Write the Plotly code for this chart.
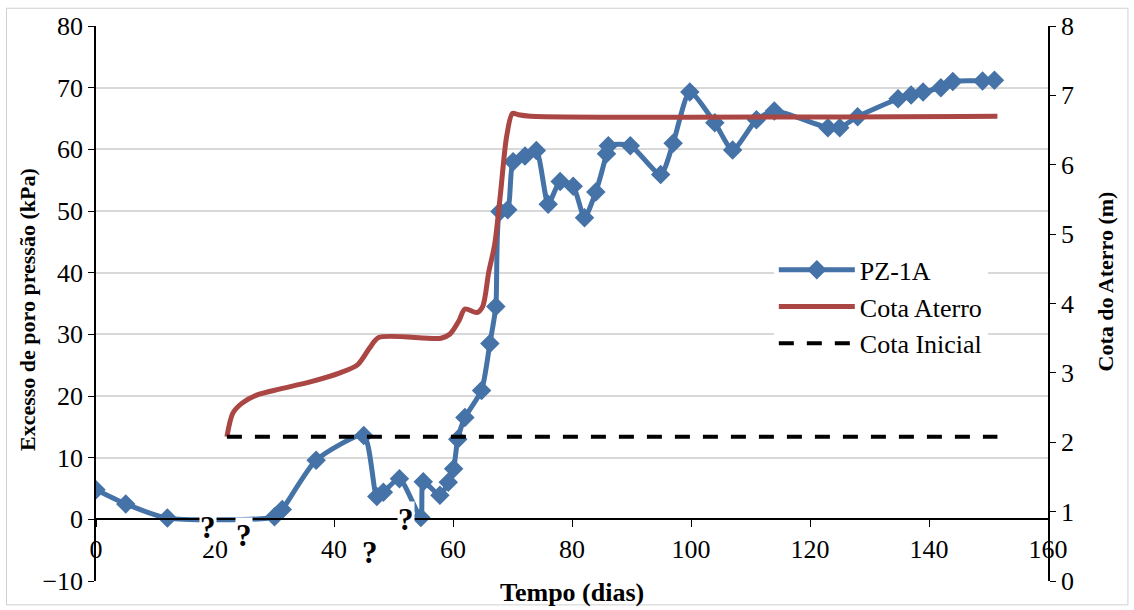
import plotly.graph_objects as go

# PZ-1A excess pore pressure (kPa) vs time (days)
t_pz = [0, 5, 12, 30, 31.3, 37, 45, 47.2, 48.3, 51, 54.6, 55, 57.8, 59.2, 60.1, 60.8,
        62, 64.8, 66.2, 67.2, 67.9, 69.2, 70.1, 72.1, 74, 76, 78, 80.2, 82.1, 84,
        85.8, 86.1, 89.8, 94.9, 97, 99.8, 104, 107, 111, 114, 123, 125, 128, 134.8,
        137, 139, 142, 144, 149, 151]
v_pz = [4.8, 2.5, 0.2, 0.4, 1.6, 9.6, 13.6, 3.7, 4.4, 6.6, 0.3, 6.1, 3.9, 6.0, 8.2, 13.0,
        16.5, 20.9, 28.5, 34.5, 49.9, 50.2, 58.0, 58.9, 59.8, 51.1, 54.8, 54.0, 48.9, 53.1,
        59.3, 60.6, 60.6, 55.9, 61.0, 69.3, 64.3, 59.9, 64.8, 66.2, 63.5, 63.5, 65.3, 68.2,
        68.8, 69.3, 70.0, 71.0, 71.1, 71.2]

# Cota Aterro (m) vs time
t_at = [22, 23, 24.5, 27, 31, 36, 41, 44, 46, 47.5, 58, 59.5, 61, 62, 64, 65, 66, 67,
        68, 69, 70, 71, 73, 151.5]
r_at = [2.08, 2.42, 2.56, 2.68, 2.77, 2.87, 3.0, 3.12, 3.36, 3.51, 3.50, 3.56, 3.75, 3.92,
        3.87, 3.96, 4.45, 4.85, 5.6, 6.4, 6.74, 6.72, 6.70, 6.70]

# Cota Inicial (m)
t_ini = [22, 151.5]
r_ini = [2.08, 2.08]

# "?" marks (time, kPa)
q_t = [18.9, 24.9, 46.0, 52.1]
q_v = [-1.4, -2.7, -5.4, 0.0]

x_ticks = [0, 20, 40, 60, 80, 100, 120, 140, 160]

BLUE = "#4572A7"
RED = "#AA4643"
FONT = "'Liberation Serif', 'Times New Roman', Times, serif"
FS = 26      # horizontal texts
FT = 22      # rotated axis titles

fig = go.Figure()
fig.add_trace(go.Scatter(
    x=t_pz, y=v_pz, name="PZ-1A", mode="lines+markers",
    line=dict(color=BLUE, width=5, shape="spline", smoothing=0.6),
    marker=dict(symbol="diamond", size=15, color=BLUE),
    legendgroup="a", yaxis="y"))
fig.add_trace(go.Scatter(
    x=t_at, y=r_at, name="Cota Aterro", mode="lines",
    line=dict(color=RED, width=5, shape="spline", smoothing=0.8),
    legendgroup="b", yaxis="y2"))
fig.add_trace(go.Scatter(
    x=t_ini, y=r_ini, name="Cota Inicial", mode="lines",
    line=dict(color="black", width=4, dash="15px,13px"),
    legendgroup="c", yaxis="y2"))

for qt, qv in zip(q_t, q_v):
    fig.add_annotation(x=qt, y=qv, xref="x", yref="y", text="<b>?</b>",
                       showarrow=False, bgcolor="white", borderpad=0,
                       font=dict(family=FONT, size=31, color="black"))

fig.add_annotation(x=0.5, y=-0.02, xref="paper", yref="paper", yanchor="middle",
                   xanchor="center",
                   text="<b>Tempo (dias)</b>", showarrow=False,
                   font=dict(family=FONT, size=FS, color="black"))
fig.add_annotation(x=-0.0725, y=0.49, xref="paper", yref="paper", textangle=-90,
                   xanchor="center", yanchor="middle",
                   text="<b>Excesso de poro pressão (kPa)</b>", showarrow=False,
                   font=dict(family=FONT, size=FT, color="black"))
fig.add_annotation(x=1.06, y=0.54, xref="paper", yref="paper", textangle=-90,
                   xanchor="center", yanchor="middle",
                   text="<b>Cota do Aterro (m)</b>", showarrow=False,
                   font=dict(family=FONT, size=FT, color="black"))

fig.add_shape(type="rect", xref="paper", yref="paper",
              x0=-0.094, x1=1.084, y0=-0.043, y1=1.032,
              line=dict(color="#d0d0d0", width=1), layer="below")

fig.update_layout(
    width=1134, height=610,
    margin=dict(l=96, r=86, t=24, b=29),
    paper_bgcolor="white", plot_bgcolor="white",
    font=dict(family=FONT, size=FS, color="black"),
    showlegend=True,
    legend=dict(x=0.712, y=0.603, xanchor="left", yanchor="top",
                bgcolor="white", borderwidth=0, tracegroupgap=0,
                itemwidth=76, font=dict(family=FONT, size=FS)),
    xaxis=dict(range=[0, 160], tickvals=x_ticks, ticktext=[str(v) for v in x_ticks],
               anchor="free", position=1/9, showline=True, linecolor="black",
               linewidth=1.5, ticks="outside", ticklen=7, tickcolor="black",
               showgrid=False, zeroline=False, tickfont=dict(family=FONT, size=FS)),
    yaxis=dict(range=[-10, 80], dtick=10, showline=True, linecolor="black",
               linewidth=1.5, ticks="outside", ticklen=6, tickcolor="black",
               showgrid=True, gridcolor="#d9d9d9", gridwidth=1.5, zeroline=False,
               tickfont=dict(family=FONT, size=FS)),
    yaxis2=dict(range=[0, 8], dtick=1, overlaying="y", side="right", anchor="x",
                showline=True, linecolor="black", linewidth=1.5, ticks="outside",
                ticklen=6, tickcolor="black", showgrid=False, zeroline=False,
                tickfont=dict(family=FONT, size=FS)),
)

fig.write_html("out.html")
